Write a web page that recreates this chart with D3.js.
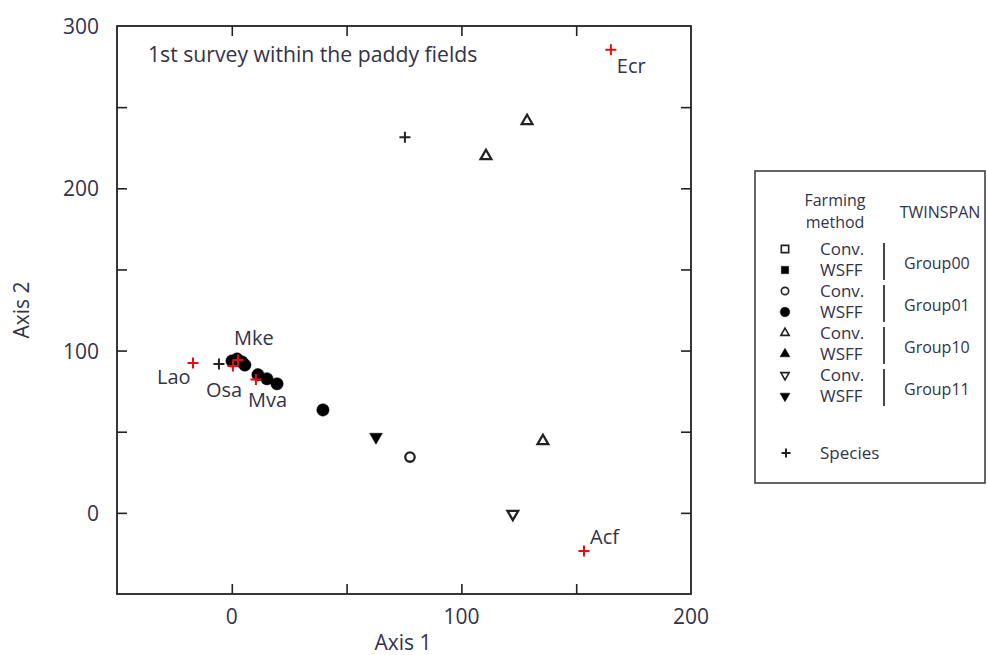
<!DOCTYPE html>
<html>
<head>
<meta charset="utf-8">
<script src="https://cdn.jsdelivr.net/npm/d3@7"></script>
<style>
  body { margin: 0; background: #fff; }
  text { font-family: "Open Sans", "Noto Sans", sans-serif; fill: #33334a; }
</style>
</head>
<body>
<div id="chart"></div>
<script>
// site scores: x, y, marker kind
var siteX    = [0.1, 2.3, 4.4, 5.7, 11.4, 15.3, 19.7, 39.7, 62.8, 77.6, 110.7, 128.6, 135.5, 122.4];
var siteY    = [93.6, 94.8, 93.0, 91.1, 85.1, 82.6, 79.5, 63.4, 46.8, 34.4, 219.9, 241.5, 44.3, -0.7];
var siteKind = ['circleF', 'circleF', 'circleF', 'circleF', 'circleF', 'circleF', 'circleF', 'circleF',
                'downF', 'circleO', 'triO', 'triO', 'triO', 'downO'];

// species scores
var spX     = [-5.6, 75.4, -16.9, 2.7, 0.5, 10.5, 165.1, 153.4];
var spY     = [91.7, 231.5, 92.4, 94.2, 90.5, 82.1, 285.3, -23.5];
var spLabel = ['', '', 'Lao', 'Mke', 'Osa', 'Mva', 'Ecr', 'Acf'];

var xTicks = [0, 100, 200];
var xMinor = [0, 50, 100, 150];
var yTicks = [0, 100, 200, 300];
var yMinor = [0, 50, 100, 150, 200, 250];

var legendKinds  = ['squareO', 'squareF', 'circleO', 'circleF', 'triO', 'triF', 'downO', 'downF'];
var legendGroups = ['Group00', 'Group01', 'Group10', 'Group11'];

var width = 987, height = 655;
var pLeft = 117, pRight = 691, pTop = 26, pBottom = 594;

var svg = d3.select('#chart').append('svg')
    .attr('width', width)
    .attr('height', height);

var x = d3.scaleLinear().domain([-50, 200]).range([pLeft, pRight]);
var y = d3.scaleLinear().domain([-50, 300]).range([pBottom, pTop]);

// frame
svg.append('rect')
   .attr('x', pLeft).attr('y', pTop)
   .attr('width', pRight - pLeft).attr('height', pBottom - pTop)
   .attr('fill', 'none').attr('stroke', '#222').attr('stroke-width', 1.8);

// inward ticks on all four sides
function ticks(g, axis, vals) {
  g.call(axis.tickValues(vals).tickSize(10).tickFormat(''))
   .call(function(s) { s.select('.domain').remove(); })
   .selectAll('line').attr('stroke', '#222').attr('stroke-width', 1.6);
}
ticks(svg.append('g').attr('transform', 'translate(0,' + pBottom + ')'), d3.axisTop(x), xMinor);
ticks(svg.append('g').attr('transform', 'translate(0,' + pTop + ')'), d3.axisBottom(x), xMinor);
ticks(svg.append('g').attr('transform', 'translate(' + pLeft + ',0)'), d3.axisRight(y), yMinor);
ticks(svg.append('g').attr('transform', 'translate(' + pRight + ',0)'), d3.axisLeft(y), yMinor);

// tick labels
svg.selectAll('.xlab').data(xTicks).enter().append('text')
   .attr('x', function(d) { return x(d); })
   .attr('y', pBottom + 30)
   .attr('text-anchor', 'middle')
   .attr('font-size', 21)
   .attr('fill', '#444')
   .text(function(d) { return d; });

svg.selectAll('.ylab').data(yTicks).enter().append('text')
   .attr('x', pLeft - 18)
   .attr('y', function(d) { return y(d) + 8; })
   .attr('text-anchor', 'end')
   .attr('font-size', 21)
   .attr('fill', '#444')
   .text(function(d) { return d; });

// axis titles
svg.append('text').attr('x', 403).attr('y', 650).attr('text-anchor', 'middle')
   .attr('font-size', 21).text('Axis 1');
svg.append('text').attr('transform', 'translate(29,310) rotate(-90)').attr('text-anchor', 'middle')
   .attr('font-size', 21).text('Axis 2');

svg.append('text').attr('x', 148).attr('y', 62)
   .attr('font-size', 21.2).text('1st survey within the paddy fields');

// marker drawing
function symbolFor(kind, big) {
  var s = big ? 1 : 0.6;
  if (kind.indexOf('square') == 0) return d3.symbol().type(d3.symbolSquare).size(90 * s)();
  if (kind.indexOf('circle') == 0) return d3.symbol().type(d3.symbolCircle).size((kind == 'circleF' ? 120 : 70) * s)();
  return d3.symbol().type(d3.symbolTriangle).size((kind.slice(-1) == 'F' ? 70 : 50) * s)();
}
function drawMarker(g, kind, big) {
  var filled = kind.slice(-1) == 'F';
  g.append('path')
   .attr('d', symbolFor(kind, big))
   .attr('transform', kind.indexOf('down') == 0 ? 'rotate(180)' : null)
   .attr('fill', filled ? '#000' : '#fff')
   .attr('stroke', filled ? '#000' : '#222')
   .attr('stroke-width', filled ? 0.5 : (big ? 2.3 : 1.6));
}

var sites = svg.append('g');
siteX.forEach(function(d, i) {
  var g = sites.append('g').attr('transform', 'translate(' + x(d) + ',' + y(siteY[i]) + ')');
  drawMarker(g, siteKind[i], true);
});

// species crosses
function cross(g, color, r) {
  g.append('path').attr('d', 'M' + (-r) + ',0H' + r + 'M0,' + (-r) + 'V' + r)
   .attr('stroke', color).attr('stroke-width', 2).attr('fill', 'none');
}
var species = svg.append('g');
spX.forEach(function(d, i) {
  var g = species.append('g').attr('transform', 'translate(' + x(d) + ',' + y(spY[i]) + ')');
  cross(g, spLabel[i] ? '#e01010' : '#222', 5.5);
});

// species labels, offsets in px from the cross
var labelDx = { Lao: -36, Mke: -4, Osa: -27, Mva: -8, Ecr: 6, Acf: 6 };
var labelDy = { Lao: 21, Mke: -15, Osa: 31, Mva: 27, Ecr: 23, Acf: -7 };
spLabel.forEach(function(d, i) {
  if (!d) return;
  svg.append('text')
     .attr('x', x(spX[i]) + labelDx[d])
     .attr('y', y(spY[i]) + labelDy[d])
     .attr('font-size', 20)
     .text(d);
});

// legend
var lg = svg.append('g');
lg.append('rect').attr('x', 755).attr('y', 171).attr('width', 230).attr('height', 312)
  .attr('fill', '#fff').attr('stroke', '#333').attr('stroke-width', 1.5);

lg.append('text').attr('x', 835).attr('y', 206).attr('text-anchor', 'middle').attr('font-size', 16).text('Farming');
lg.append('text').attr('x', 835).attr('y', 228).attr('text-anchor', 'middle').attr('font-size', 16).text('method');
lg.append('text').attr('x', 940).attr('y', 218).attr('text-anchor', 'middle').attr('font-size', 16).text('TWINSPAN');

var rowY = d3.scaleLinear().domain([0, 7]).range([249, 396]);
legendKinds.forEach(function(k, i) {
  var g = lg.append('g').attr('transform', 'translate(785,' + rowY(i) + ')');
  drawMarker(g, k, false);
  lg.append('text').attr('x', 820).attr('y', rowY(i) + 6).attr('font-size', 17)
    .text(i % 2 == 0 ? 'Conv.' : 'WSFF');
});
legendGroups.forEach(function(gname, j) {
  var y0 = rowY(2 * j), y1 = rowY(2 * j + 1);
  lg.append('line').attr('x1', 884).attr('x2', 884).attr('y1', y0 - 6).attr('y2', y1 + 10)
    .attr('stroke', '#333').attr('stroke-width', 1.8);
  lg.append('text').attr('x', 904).attr('y', (y0 + y1) / 2 + 9).attr('font-size', 16).text(gname);
});
cross(lg.append('g').attr('transform', 'translate(786,453)'), '#222', 4.5);
lg.append('text').attr('x', 820).attr('y', 459).attr('font-size', 17).text('Species');
</script>
</body>
</html>
